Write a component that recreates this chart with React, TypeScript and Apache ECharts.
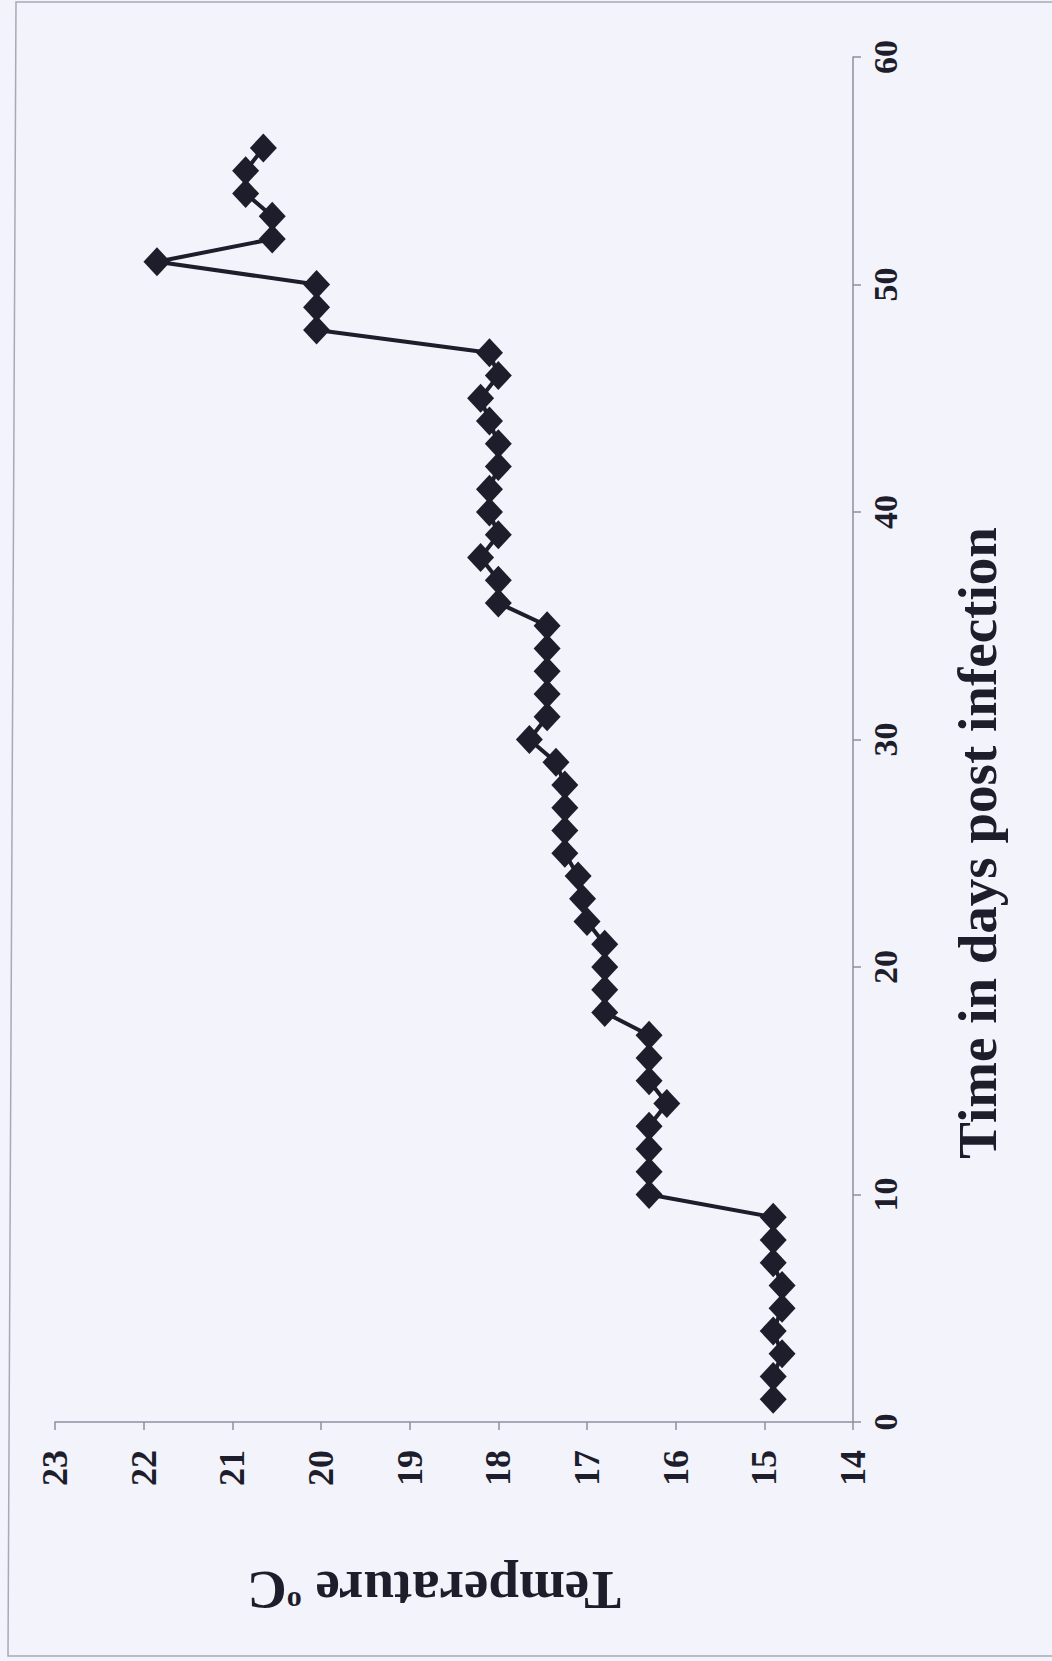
import { useEffect, useRef } from "react";
import * as echarts from "echarts";

const days = [
  1, 2, 3, 4, 5, 6, 7, 8, 9, 10, 11, 12, 13, 14, 15, 16, 17, 18, 19, 20,
  21, 22, 23, 24, 25, 26, 27, 28, 29, 30, 31, 32, 33, 34, 35, 36, 37, 38, 39, 40,
  41, 42, 43, 44, 45, 46, 47, 48, 49, 50, 51, 52, 53, 54, 55, 56,
];

const temperatures = [
  14.9, 14.9, 14.8, 14.9, 14.8, 14.8, 14.9, 14.9, 14.9, 16.3,
  16.3, 16.3, 16.3, 16.1, 16.3, 16.3, 16.3, 16.8, 16.8, 16.8,
  16.8, 17.0, 17.05, 17.1, 17.25, 17.25, 17.25, 17.25, 17.35, 17.65,
  17.45, 17.45, 17.45, 17.45, 17.45, 18.0, 18.0, 18.2, 18.0, 18.1,
  18.1, 18.0, 18.0, 18.1, 18.2, 18.0, 18.1, 20.05, 20.05, 20.05,
  21.85, 20.55, 20.55, 20.85, 20.85, 20.65,
];

const xTitle = "Time in days post infection";
const yTitleMain = "Temperature ";
const yTitleSup = "o";
const yTitleEnd = "C";

const INK = "#1d1d2b";
const AXIS = "#8e8e9e";
const BG = "#f3f3fb";
const FONT = "'Liberation Serif', 'Times New Roman', serif";

export default function App() {
  const ref = useRef<HTMLDivElement>(null);

  useEffect(() => {
    document.body.style.margin = "0";
    document.body.style.background = BG;
    if (!ref.current) return;
    const chart = echarts.init(ref.current, undefined, { renderer: "svg" });
    const data = days.map((d, i) => [temperatures[i], d]);

    const option: any = {
      animation: false,
      backgroundColor: BG,
      grid: {
        left: 55,
        right: 199,
        top: 57,
        bottom: 239,
        containLabel: false,
        outerBoundsMode: "none",
      },
      xAxis: {
        type: "value",
        min: 14,
        max: 23,
        interval: 1,
        inverse: true,
        position: "bottom",
        axisLine: { show: true, onZero: false, lineStyle: { color: AXIS, width: 1.5 } },
        axisTick: { show: true, length: 8, lineStyle: { color: AXIS, width: 1.5 } },
        splitLine: { show: false },
        axisLabel: {
          rotate: 90,
          margin: 28,
          fontSize: 36,
          fontWeight: "bold",
          fontFamily: FONT,
          color: INK,
        },
      },
      yAxis: {
        type: "value",
        min: 0,
        max: 60,
        interval: 10,
        position: "right",
        axisLine: { show: true, onZero: false, lineStyle: { color: AXIS, width: 1.5 } },
        axisTick: { show: true, length: 8, lineStyle: { color: AXIS, width: 1.5 } },
        splitLine: { show: false },
        axisLabel: {
          rotate: 90,
          margin: 15,
          fontSize: 34,
          fontWeight: "bold",
          fontFamily: FONT,
          color: INK,
        },
      },
      series: [
        {
          type: "line",
          data,
          symbol: "diamond",
          symbolSize: [27, 29],
          showAllSymbol: true,
          lineStyle: { color: INK, width: 4 },
          itemStyle: { color: INK, borderWidth: 0 },
          z: 3,
        },
      ],
      graphic: [
        {
          type: "text",
          x: 977,
          y: 843,
          rotation: Math.PI / 2,
          style: {
            text: xTitle,
            fontSize: 55,
            fontWeight: "bold",
            fontFamily: FONT,
            fill: INK,
            align: "center",
            verticalAlign: "middle",
          },
        },
        {
          type: "text",
          x: 434,
          y: 1590,
          rotation: Math.PI,
          style: {
            text: yTitleMain + "{sup|" + yTitleSup + "}" + yTitleEnd,
            fontSize: 55,
            fontWeight: "bold",
            fontFamily: FONT,
            fill: INK,
            align: "center",
            verticalAlign: "middle",
            rich: {
              sup: {
                fontSize: 30,
                fontWeight: "bold",
                fontFamily: FONT,
                fill: INK,
                verticalAlign: "top",
              },
            },
          },
        },
        {
          type: "polyline",
          shape: { points: [[1052, 2], [16, 2], [8, 1656], [1052, 1656]] },
          style: { stroke: "#a9a9b6", lineWidth: 1.5, fill: "none" },
          silent: true,
        },
      ],
    };

    chart.setOption(option);
    return () => chart.dispose();
  }, []);

  return <div ref={ref} style={{ width: 1052, height: 1661 }} />;
}
